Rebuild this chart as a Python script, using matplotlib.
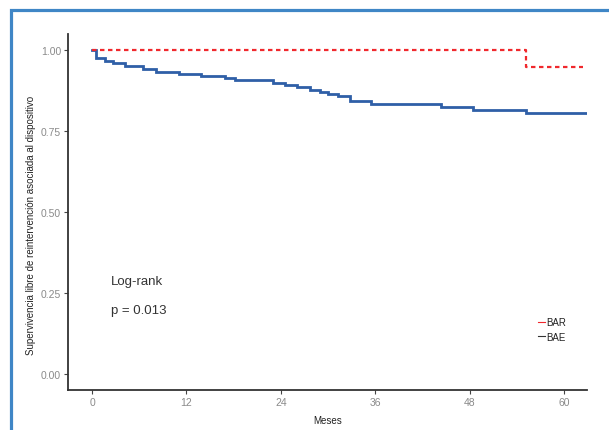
import matplotlib
matplotlib.use("Agg")
import matplotlib.pyplot as plt
from matplotlib.patches import Rectangle
from matplotlib.lines import Line2D

# Data (Kaplan-Meier step curves)
bae_months = [0, 0.5, 1.65, 2.7, 4.2, 6.5, 8.1, 11.1, 13.9, 16.9, 18.2, 23.0, 24.5, 26.0,
              27.7, 29.0, 30.0, 31.2, 32.8, 35.5, 44.4, 48.4, 55.2, 62.9]
bae_surv = [1.0, 0.977, 0.967, 0.960, 0.950, 0.941, 0.934, 0.927, 0.921, 0.914, 0.908,
            0.900, 0.893, 0.885, 0.877, 0.871, 0.864, 0.857, 0.843, 0.833, 0.823, 0.815,
            0.806, 0.806]
bar_months = [0, 55.2, 62.4]
bar_surv = [1.0, 0.947, 0.947]

x_ticks = [0, 12, 24, 36, 48, 60]
y_ticks = [0.0, 0.25, 0.50, 0.75, 1.00]
y_tick_labels = ["0.00", "0.25", "0.50", "0.75", "1.00"]
series_names = ["BAR", "BAE"]

plt.rcParams['font.family'] = ['Liberation Sans', 'DejaVu Sans']

W, H = 609, 431
fig = plt.figure(figsize=(W / 100, H / 100), dpi=100)
fig.patch.set_facecolor("white")

# blue frame around figure
fig.patches.append(Rectangle((11 / W, -0.1), 1.2, 1 - 11 / H + 0.1,
                             transform=fig.transFigure, fill=False,
                             edgecolor="#3f86c6", linewidth=2.3, zorder=0))

ax = fig.add_axes([68 / W, 1 - 391 / H, (587 - 68) / W, (391 - 35) / H])
ax.set_facecolor("white")

blue = "#2f5fa7"
red = "#f0282d"
ax.step(bae_months, bae_surv, where="post", color=blue, lw=2.0, solid_joinstyle="miter")
ax.step(bar_months, bar_surv, where="post", color=red, lw=1.6, dashes=(2.0, 1.6))

ax.set_xlim(-3.05, 62.9)
ax.set_ylim(-0.05, 1.05)
ax.set_xticks(x_ticks)
ax.set_xticklabels([str(t) for t in x_ticks])
ax.set_yticks(y_ticks)
ax.set_yticklabels(y_tick_labels)
ax.tick_params(axis="both", colors="#444444", labelcolor="#8a8a8a", labelsize=7.5,
               length=3, width=0.8, pad=2)

for s in ["top", "right"]:
    ax.spines[s].set_visible(False)
for s in ["left", "bottom"]:
    ax.spines[s].set_color("#333333")
    ax.spines[s].set_linewidth(1.3)

ax.set_xlabel("Meses", fontsize=7, color="#222222", labelpad=6)
ax.set_ylabel("Supervivencia libre de reintervención asociada al dispositivo",
              fontsize=7.0, color="#222222")
ax.yaxis.set_label_coords(-0.062, 0.466)

ax.text(0.083, 0.307, "Log-rank", transform=ax.transAxes, fontsize=9.5, color="#333333",
        va="center", ha="left")
ax.text(0.083, 0.225, "p = 0.013", transform=ax.transAxes, fontsize=9.5, color="#333333",
        va="center", ha="left")

handles = [Line2D([], [], color=red, lw=0.8), Line2D([], [], color="#333333", lw=0.8)]
leg = ax.legend(handles, series_names, loc="upper left",
                bbox_to_anchor=((538 - 68) / (587 - 68), (391 - 318) / (391 - 35)),
                frameon=False, fontsize=7, handlelength=0.7, handletextpad=0.1,
                labelspacing=0.5, borderpad=0, borderaxespad=0)
for t in leg.get_texts():
    t.set_color("#222222")

fig.savefig("out.png", dpi=100)
